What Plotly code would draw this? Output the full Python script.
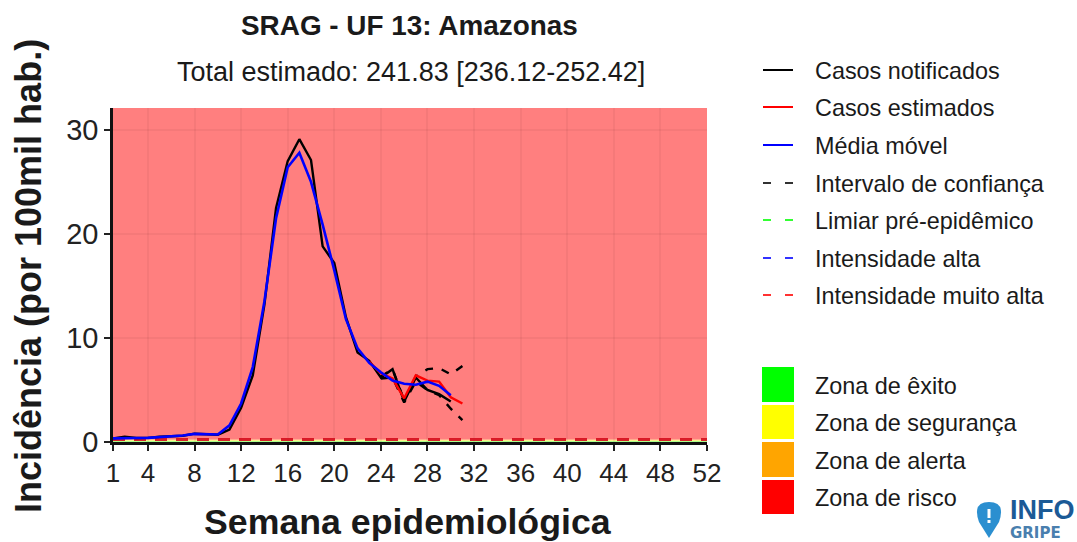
import plotly.graph_objects as go

WEEKS = list(range(1, 53))
TICK_WEEKS = [1, 4, 8, 12, 16, 20, 24, 28, 32, 36, 40, 44, 48, 52]

NOTIFIED = [0.35, 0.5, 0.38, 0.4, 0.5, 0.55, 0.6, 0.8, 0.75, 0.7, 1.2, 3.3, 6.4, 13.2, 22.5, 27.0, 29.1,
            27.1, 18.8, 17.2, 12.0, 8.6, 7.8, 6.2, 7.0, 3.9, 6.2, 5.0, 4.6, 3.9]
ESTIMATED_WEEKS = list(range(23, 32))
ESTIMATED = [7.7, 6.6, 6.1, 4.2, 6.4, 5.9, 5.8, 4.3, 3.7]
MOVING_AVG = [0.35, 0.4, 0.38, 0.4, 0.48, 0.55, 0.62, 0.78, 0.75, 0.72, 1.6, 3.7, 7.2, 13.5, 21.5, 26.4, 27.8,
              25.0, 20.9, 16.5, 11.8, 9.0, 7.6, 6.7, 5.9, 5.6, 5.5, 5.8, 5.4, 4.5]
CI_WEEKS = list(range(24, 32))
CI_UPPER = [6.3, 7.0, 4.0, 6.3, 7.0, 7.1, 6.5, 7.3]
CI_LOWER = [6.1, 6.2, 3.8, 5.8, 5.0, 4.5, 3.2, 2.1]

THRESH_PRE = 0.25
THRESH_HIGH = 0.25
THRESH_VERY_HIGH = 0.25
Y_TOP = 32.1

LINE_LABELS = ["Casos notificados", "Casos estimados", "Média móvel", "Intervalo de confiança",
               "Limiar pré-epidêmico", "Intensidade alta", "Intensidade muito alta"]
LINE_COLORS = ["#000000", "#FF0000", "#0000FF", "#000000", "#00FF00", "#0000FF", "#FF0000"]
LINE_DASHED = [False, False, False, True, True, True, True]
LINE_ROWS = [70, 107, 145, 183, 220, 258, 295]
ZONE_LABELS = ["Zona de êxito", "Zona de segurança", "Zona de alerta", "Zona de risco"]
ZONE_COLORS = ["#00FF00", "#FFFF00", "#FFA500", "#FF0000"]
ZONE_ROWS = [(367, 402), (405, 439), (442, 477), (480, 514)]

L, R, T, B = 113, 707, 108, 442
W, H = 1077, 542
FONT = "Liberation Sans"
DASH = "8px,9px"
THRESH_DASH = "12px,9px"
TEXT = "#1a1a1a"


def px(x):
    return (x - L) / (R - L)


def py(y):
    return (B - y) / (B - T)


fig = go.Figure()

# zones
zone_edges = [0, THRESH_PRE / 3, THRESH_PRE * 2 / 3, THRESH_VERY_HIGH, Y_TOP]
for i, c in enumerate(ZONE_COLORS):
    fig.add_shape(type="rect", xref="x", yref="y", x0=1, x1=52, y0=zone_edges[i], y1=zone_edges[i + 1],
                  fillcolor=c, opacity=0.5, line_width=0, layer="below")

for val, col, op in [(THRESH_PRE, "#00FF00", 0.3), (THRESH_HIGH, "#0000FF", 0.4), (THRESH_VERY_HIGH, "#FF0000", 0.75)]:
    fig.add_trace(go.Scatter(x=[WEEKS[0], WEEKS[-1]], y=[val, val], mode="lines", opacity=op,
                             line=dict(color=col, width=3, dash=THRESH_DASH), showlegend=False, hoverinfo="skip"))

fig.add_trace(go.Scatter(x=CI_WEEKS, y=CI_UPPER, mode="lines", line=dict(color="#000", width=2.4, dash=DASH), showlegend=False))
fig.add_trace(go.Scatter(x=CI_WEEKS, y=CI_LOWER, mode="lines", line=dict(color="#000", width=2.4, dash=DASH), showlegend=False))
fig.add_trace(go.Scatter(x=WEEKS[:len(NOTIFIED)], y=NOTIFIED, mode="lines", line=dict(color="#000", width=2.4), name=LINE_LABELS[0], showlegend=False))
fig.add_trace(go.Scatter(x=ESTIMATED_WEEKS, y=ESTIMATED, mode="lines", line=dict(color="#FF0000", width=2.4), name=LINE_LABELS[1], showlegend=False))
fig.add_trace(go.Scatter(x=WEEKS[:len(MOVING_AVG)], y=MOVING_AVG, mode="lines", line=dict(color="#0000FF", width=2.6), name=LINE_LABELS[2], showlegend=False))

# hand-placed legend
for label, col, dashed, row in zip(LINE_LABELS, LINE_COLORS, LINE_DASHED, LINE_ROWS):
    fig.add_shape(type="line", xref="paper", yref="paper", x0=px(763), x1=px(793), y0=py(row), y1=py(row),
                  opacity=0.8 if dashed else 1,
                  line=dict(color=col, width=2, dash="8px,14px" if dashed else "solid"))
    fig.add_annotation(xref="paper", yref="paper", x=px(813), y=py(row + 1), text=label, showarrow=False,
                       xanchor="left", yanchor="middle", font=dict(family=FONT, size=23.4, color=TEXT))
for label, col, (y0, y1) in zip(ZONE_LABELS, ZONE_COLORS, ZONE_ROWS):
    fig.add_shape(type="rect", xref="paper", yref="paper", x0=px(762), x1=px(794), y0=py(y0), y1=py(y1),
                  fillcolor=col, line_width=0)
    fig.add_annotation(xref="paper", yref="paper", x=px(813), y=py((y0 + y1) / 2 + 1), text=label, showarrow=False,
                       xanchor="left", yanchor="middle", font=dict(family=FONT, size=23.4, color=TEXT))

# titles
fig.add_annotation(xref="paper", yref="paper", x=px(409), y=py(26), text="<b>SRAG - UF 13: Amazonas</b>", showarrow=False,
                   xanchor="center", yanchor="middle", font=dict(family=FONT, size=27.9, color=TEXT))
fig.add_annotation(xref="paper", yref="paper", x=px(411), y=py(72), text="Total estimado: 241.83 [236.12-252.42]", showarrow=False,
                   xanchor="center", yanchor="middle", font=dict(family=FONT, size=27, color=TEXT))
fig.add_annotation(xref="paper", yref="paper", x=px(408), y=py(521.5), text="<b>Semana epidemiológica</b>", showarrow=False,
                   xanchor="center", yanchor="middle", font=dict(family=FONT, size=35.7, color=TEXT))
fig.add_annotation(xref="paper", yref="paper", x=px(28), y=py(276), text="<b>Incidência (por 100mil hab.)</b>", showarrow=False,
                   textangle=-90, xanchor="center", yanchor="middle", font=dict(family=FONT, size=36, color=TEXT))

# logo
def pt(x, y):
    return f"{px(x):.5f},{py(y):.5f}"

fig.add_shape(type="path", xref="paper", yref="paper", line_width=0, fillcolor="#2B8FD0",
              path=f"M{pt(989, 538)} L{pt(979, 522)} Q{pt(972, 502)} {pt(989, 502)} Q{pt(1006, 502)} {pt(999, 522)} Z")
fig.add_shape(type="rect", xref="paper", yref="paper", x0=px(987.5), x1=px(990.5), y0=py(509), y1=py(518),
              fillcolor="white", line_width=0)
fig.add_shape(type="rect", xref="paper", yref="paper", x0=px(987.5), x1=px(990.5), y0=py(520), y1=py(523),
              fillcolor="white", line_width=0)
fig.add_annotation(xref="paper", yref="paper", x=px(1008), y=py(510), text="<b>INFO</b>", showarrow=False,
                   xanchor="left", yanchor="middle", font=dict(family=FONT, size=27, color="#1B5A96"))
fig.add_annotation(xref="paper", yref="paper", x=px(1008), y=py(533), text="<b>GRIPE</b>", showarrow=False,
                   xanchor="left", yanchor="middle", font=dict(family="DejaVu Sans", size=15, color="#4A7FAE"))

GRID = "rgba(120,40,40,0.07)"
fig.update_layout(
    width=W, height=H, margin=dict(l=L, r=W - R, t=T, b=H - B, autoexpand=False),
    paper_bgcolor="white", plot_bgcolor="white", showlegend=False,
    xaxis=dict(range=[1, 52], tickmode="array", tickvals=TICK_WEEKS, ticks="outside", ticklen=6, tickwidth=2,
               tickcolor="#222", showline=True, linecolor="#111", linewidth=2.5, showgrid=True,
               gridcolor=GRID, gridwidth=2, zeroline=False,
               tickfont=dict(family=FONT, size=26, color="#222")),
    yaxis=dict(range=[0, Y_TOP], tickmode="array", tickvals=[0, 10, 20, 30], ticks="outside", ticklen=6, tickwidth=2,
               tickcolor="#222", showline=True, linecolor="#111", linewidth=2.5, showgrid=True,
               gridcolor=GRID, gridwidth=2, zeroline=False,
               tickfont=dict(family=FONT, size=29, color="#222")),
)
fig.write_html("out.html", config={"displayModeBar": False},
               post_script="document.body.style.margin='0';document.documentElement.style.overflow='hidden';")
